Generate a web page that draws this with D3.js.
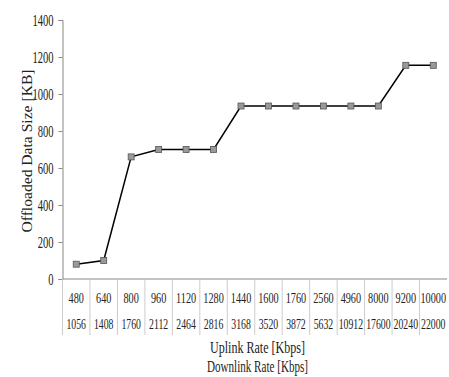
<!DOCTYPE html>
<html>
<head>
<meta charset="utf-8">
<script src="https://cdn.jsdelivr.net/npm/d3@7"></script>
<style>
  body { margin: 0; background: #fff; }
  text { font-family: "Liberation Serif", "Times New Roman", serif; fill: #222; }
</style>
</head>
<body>
<svg id="chart"></svg>
<script>
const uplink = ["480", "640", "800", "960", "1120", "1280", "1440", "1600", "1760", "2560", "4960", "8000", "9200", "10000"];
const downlink = ["1056", "1408", "1760", "2112", "2464", "2816", "3168", "3520", "3872", "5632", "10912", "17600", "20240", "22000"];
const sizes = [80, 100, 660, 700, 700, 700, 935, 935, 935, 935, 935, 935, 1155, 1155];
const yTicks = [0, 200, 400, 600, 800, 1000, 1200, 1400];

const width = 449, height = 377;
const plotLeft = 62.5, plotRight = 447, plotTop = 20, plotBottom = 279;

const svg = d3.select("#chart").attr("width", width).attr("height", height);

const x = d3.scaleBand()
  .domain(d3.range(uplink.length))
  .range([plotLeft, plotRight])
  .padding(0);

const y = d3.scaleLinear()
  .domain([0, 1400])
  .range([plotBottom, plotTop]);

// the picture's fonts are squashed sideways, so shrink each text's width
function condense(sel, k) {
  sel.each(function() {
    const w = this.getComputedTextLength();
    d3.select(this).attr("textLength", w * k).attr("lengthAdjust", "spacingAndGlyphs");
  });
}

// y axis
const yAxis = svg.append("g")
  .attr("transform", "translate(" + plotLeft + ",0)")
  .call(d3.axisLeft(y).tickValues(yTicks).tickFormat(d3.format("d")).tickSize(4).tickPadding(5));
yAxis.select(".domain").attr("stroke", "#888");
yAxis.selectAll(".tick line").attr("stroke", "#888");
yAxis.selectAll(".tick text")
  .style("font-family", "Liberation Serif")
  .attr("font-size", 16)
  .attr("fill", "#222")
  .call(condense, 0.66);

// x baseline
svg.append("line")
  .attr("x1", plotLeft).attr("x2", plotRight)
  .attr("y1", plotBottom).attr("y2", plotBottom)
  .attr("stroke", "#888");

// table dividers under the axis
svg.selectAll(".divider")
  .data(d3.range(uplink.length))
  .enter()
  .append("line")
  .attr("class", "divider")
  .attr("x1", d => x(d))
  .attr("x2", d => x(d))
  .attr("y1", plotBottom)
  .attr("y2", 335)
  .attr("stroke", "#ccc");

svg.selectAll(".up")
  .data(uplink)
  .enter()
  .append("text")
  .attr("class", "up")
  .attr("x", (d, i) => x(i) + x.bandwidth() / 2)
  .attr("y", 303)
  .attr("text-anchor", "middle")
  .attr("font-size", 15.5)
  .text(d => d)
  .call(condense, 0.66);

svg.selectAll(".down")
  .data(downlink)
  .enter()
  .append("text")
  .attr("class", "down")
  .attr("x", (d, i) => x(i) + x.bandwidth() / 2)
  .attr("y", 329)
  .attr("text-anchor", "middle")
  .attr("font-size", 15.5)
  .text(d => d)
  .call(condense, 0.63);

// titles
svg.append("text")
  .attr("x", 257.5).attr("y", 353)
  .attr("text-anchor", "middle")
  .attr("font-size", 16)
  .attr("textLength", 95).attr("lengthAdjust", "spacingAndGlyphs")
  .text("Uplink Rate [Kbps]");

svg.append("text")
  .attr("x", 257.5).attr("y", 372)
  .attr("text-anchor", "middle")
  .attr("font-size", 16)
  .attr("textLength", 101).attr("lengthAdjust", "spacingAndGlyphs")
  .text("Downlink Rate [Kbps]");

svg.append("text")
  .attr("transform", "translate(32,151) rotate(-90)")
  .attr("text-anchor", "middle")
  .attr("font-size", 15)
  .attr("textLength", 163).attr("lengthAdjust", "spacingAndGlyphs")
  .text("Offloaded Data Size [KB]");

// line + markers
const line = d3.line()
  .x((d, i) => x(i) + x.bandwidth() / 2)
  .y(d => y(d));

svg.append("path")
  .datum(sizes)
  .attr("d", line)
  .attr("fill", "none")
  .attr("stroke", "#000")
  .attr("stroke-width", 1.5);

svg.selectAll(".pt")
  .data(sizes)
  .enter()
  .append("rect")
  .attr("class", "pt")
  .attr("x", (d, i) => x(i) + x.bandwidth() / 2 - 3)
  .attr("y", d => y(d) - 3)
  .attr("width", 6)
  .attr("height", 6)
  .attr("fill", "#999")
  .attr("stroke", "#555")
  .attr("stroke-width", 0.8);
</script>
</body>
</html>
